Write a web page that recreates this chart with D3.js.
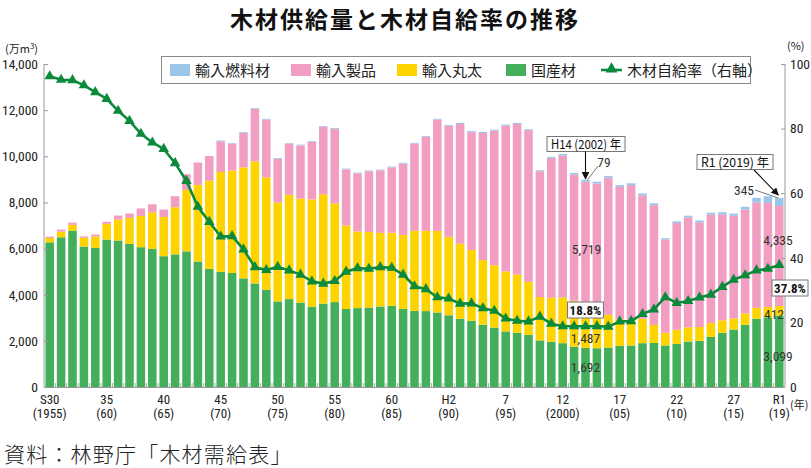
<!DOCTYPE html>
<html><head><meta charset="utf-8">
<script src="https://cdn.jsdelivr.net/npm/d3@7"></script>
<style>
body{margin:0;background:#fff;}
svg{display:block;font-family:"Noto Sans CJK JP","Noto Sans",sans-serif;}
.num{font-family:"Liberation Sans Narrow","Roboto Condensed","Liberation Sans",sans-serif;}
</style></head><body><svg id="c" width="811" height="468"></svg>
<script>
const years = [1955,1956,1957,1958,1959,1960,1961,1962,1963,1964,1965,1966,1967,1968,1969,1970,1971,1972,1973,1974,
1975,1976,1977,1978,1979,1980,1981,1982,1983,1984,1985,1986,1987,1988,1989,1990,1991,1992,1993,1994,
1995,1996,1997,1998,1999,2000,2001,2002,2003,2004,2005,2006,2007,2008,2009,2010,2011,2012,2013,2014,
2015,2016,2017,2018,2019];
const domestic = [6270,6490,6780,6090,6030,6390,6350,6200,6060,5990,
5670,5750,5880,5440,5120,4990,4940,4710,4490,4210,
3710,3810,3660,3480,3610,3680,3380,3420,3440,3490,
3520,3380,3300,3290,3230,3110,2960,2870,2700,2580,
2410,2350,2260,2020,1960,1900,1750,1692,1680,1710,
1780,1800,1900,1910,1800,1870,1970,2000,2170,2350,
2490,2700,2960,3020,3099];
const importLogs = [190,245,245,380,490,680,910,1130,1350,1580,
1700,2040,2660,3320,3830,4330,4440,4810,5290,4880,
4290,4520,4510,4650,4740,4280,3620,3320,3280,3190,
3170,3210,3470,3480,3540,3400,3250,3065,2800,2700,
2600,2520,2300,1880,1910,1980,1990,1487,1370,1420,
1150,1080,1060,780,550,610,620,600,600,540,
480,490,470,450,412];
const importProducts = [60,90,100,60,90,90,170,190,330,350,
320,480,680,970,1060,1330,1150,1490,2270,2500,
1890,2200,2300,2490,2920,3230,2430,2520,2630,2710,
2830,3090,3780,4070,4820,4810,5190,5110,5510,5830,
6320,6530,6570,5450,6060,6150,5470,5719,5770,5940,
5740,5870,5350,5190,4040,4630,4760,4540,4700,4590,
4450,4500,4570,4510,4335];
const importFuel = [0,0,0,0,0,0,0,0,0,0,
0,0,0,0,0,35,35,35,35,35,
35,35,35,35,35,35,35,35,35,35,
35,35,35,35,35,35,45,45,45,45,
45,45,45,45,45,70,70,79,80,80,
80,80,80,80,60,70,75,75,85,95,
95,120,200,290,345];
const selfRate = [96.2,95.1,95.0,93.4,91.3,89.2,85.5,82.4,78.4,75.7,
73.7,69.3,63.8,55.8,51.1,46.6,46.7,42.6,37.1,36.2,
37.2,36.1,34.8,32.7,32.0,32.8,35.7,36.8,36.6,37.1,
36.9,34.8,31.2,30.3,27.8,27.4,25.8,25.9,24.4,23.6,
21.2,20.5,20.3,21.8,19.6,18.8,18.8,18.8,18.8,18.7,
20.3,20.4,22.6,24.0,27.8,26.0,26.6,27.7,28.6,31.0,
33.2,34.6,36.1,36.6,37.8];
const tickYears = [1955,1960,1965,1970,1975,1980,1985,1990,1995,2000,2005,2010,2015,2019];
const eraLabels = ["S30","35","40","45","50","55","60","H2","7","12","17","22","27","R1"];
const adLabels = ["(1955)","(60)","(65)","(70)","(75)","(80)","(85)","(90)","(95)","(2000)","(05)","(10)","(15)","(19)"];
const leftTicks = [0,2000,4000,6000,8000,10000,12000,14000];
const rightTicks = [0,20,40,60,80,100];
const seriesKeys = ["domestic","logs","products","fuel"];
const seriesNames = {fuel:"輸入燃料材",products:"輸入製品",logs:"輸入丸太",domestic:"国産材"};
const colors = {domestic:"#43af5b",logs:"#ffd300",products:"#f19ec2",fuel:"#9cc5ea"};
const lineColor = "#0b8a3c";

const rows = years.map((y,i)=>({year:y,domestic:domestic[i],logs:importLogs[i],products:importProducts[i],fuel:importFuel[i],rate:selfRate[i]}));

const svg = d3.select("#c");
const L=44, R=785, T=64, B=387;
const x = d3.scaleBand().domain(years).range([L,R]).paddingInner(0.25).paddingOuter(0.125);
const yL = d3.scaleLinear().domain([0,14000]).range([B,T]);
const yR = d3.scaleLinear().domain([0,100]).range([B,T]);

// title
svg.append("text").attr("x",405).attr("y",28).attr("text-anchor","middle")
  .attr("font-size",23).attr("font-weight","bold").attr("letter-spacing",2).attr("fill","#111")
  .text("木材供給量と木材自給率の推移");

// stacked bars
const stack = d3.stack().keys(seriesKeys)(rows);
svg.append("g").selectAll("g").data(stack).join("g").attr("fill",d=>colors[d.key])
  .selectAll("rect").data(d=>d).join("rect")
  .attr("x",d=>x(d.data.year)).attr("width",x.bandwidth())
  .attr("y",d=>yL(d[1])).attr("height",d=>Math.max(0,yL(d[0])-yL(d[1])));

// axes
const axL = svg.append("g").attr("transform",`translate(${L},0)`)
  .call(d3.axisLeft(yL).tickValues(leftTicks).tickFormat(d3.format(",")).tickSize(-4).tickPadding(6));
const axR = svg.append("g").attr("transform",`translate(${R},0)`)
  .call(d3.axisRight(yR).tickValues(rightTicks).tickSize(-4).tickPadding(5));
[axL,axR].forEach(a=>{
  a.select(".domain").attr("stroke","#9a9a9a");
  a.selectAll(".tick line").attr("stroke","#9a9a9a");
  a.selectAll("text").attr("class","num").attr("font-size",13.5).attr("fill","#222");
});
axL.select(".domain").attr("d",`M0,${B}V${T}`);
axR.select(".domain").attr("d",`M0,${B}V${T}`);
svg.append("line").attr("x1",L).attr("x2",R).attr("y1",B+0.5).attr("y2",B+0.5).attr("stroke","#9a9a9a");
svg.append("g").selectAll("line").data(years.slice(1)).join("line")
  .attr("x1",d=>x(d)-x.step()*x.paddingInner()/2).attr("x2",d=>x(d)-x.step()*x.paddingInner()/2)
  .attr("y1",B-4).attr("y2",B).attr("stroke","#aaa");

// x labels
const xl = svg.append("g").attr("class","num").attr("font-size",13).attr("fill","#222").attr("text-anchor","middle");
tickYears.forEach((yr,i)=>{
  const cx = x(yr)+x.bandwidth()/2;
  xl.append("text").attr("x",cx).attr("y",404).text(eraLabels[i]);
  xl.append("text").attr("x",cx).attr("y",418).text(adLabels[i]);
});
svg.append("text").attr("x",790).attr("y",409).attr("font-size",11).attr("fill","#222").text("(年)");
svg.append("text").attr("x",5).attr("y",53).attr("font-size",11).attr("fill","#222").html("(万m<tspan dy='-4' font-size='8'>3</tspan><tspan dy='4'>)</tspan>");
svg.append("text").attr("x",787).attr("y",50).attr("font-size",11).attr("fill","#222").text("(%)");

// line
const line = d3.line().x(d=>x(d.year)+x.bandwidth()/2).y(d=>yR(d.rate));
svg.append("path").datum(rows).attr("d",line).attr("fill","none").attr("stroke",lineColor).attr("stroke-width",2.6);
svg.append("g").selectAll("path").data(rows).join("path")
  .attr("transform",d=>`translate(${x(d.year)+x.bandwidth()/2},${yR(d.rate)})`)
  .attr("d",d3.symbol().type(d3.symbolTriangle).size(48)).attr("fill",lineColor);

// legend
const lg = svg.append("g");
lg.append("rect").attr("x",161.5).attr("y",56.5).attr("width",589).attr("height",27).attr("fill","#fff").attr("stroke","#8a8a8a");
const legendItems = [
  {k:"fuel",x:170},{k:"products",x:291},{k:"logs",x:397},{k:"domestic",x:506}
];
legendItems.forEach(it=>{
  lg.append("rect").attr("x",it.x).attr("y",64).attr("width",20).attr("height",12).attr("fill",colors[it.k]);
  lg.append("text").attr("x",it.x+25).attr("y",75.5).attr("font-size",15).attr("fill","#222").text(seriesNames[it.k]);
});
lg.append("line").attr("x1",601).attr("x2",622).attr("y1",70).attr("y2",70).attr("stroke",lineColor).attr("stroke-width",2.6);
lg.append("path").attr("transform","translate(611.5,69)").attr("d",d3.symbol().type(d3.symbolTriangle).size(60)).attr("fill",lineColor);
lg.append("text").attr("x",627).attr("y",75.5).attr("font-size",15).attr("fill","#222").text("木材自給率（右軸）");

// annotations
const i02 = years.indexOf(2002), i19 = years.indexOf(2019);
const cx02 = x(2002)+x.bandwidth()/2, cx19 = x(2019)+x.bandwidth()/2;
const tot02 = domestic[i02]+importLogs[i02]+importProducts[i02]+importFuel[i02];
const tot19 = domestic[i19]+importLogs[i19]+importProducts[i19]+importFuel[i19];
svg.append("defs").append("marker").attr("id","ah").attr("viewBox","0 0 10 10").attr("refX",9).attr("refY",5)
  .attr("markerWidth",7).attr("markerHeight",7).attr("orient","auto")
  .append("path").attr("d","M0,0L10,5L0,10z").attr("fill","#111");
function box(cx,cy,w,h,txt,fs,bold,tl){
  svg.append("rect").attr("x",cx-w/2).attr("y",cy-h/2).attr("width",w).attr("height",h).attr("fill","#fff").attr("stroke","#777");
  const t = svg.append("text").attr("x",cx).attr("y",cy+fs*0.36).attr("text-anchor","middle").attr("font-size",fs)
    .attr("font-weight",bold?"bold":"normal").attr("fill","#111").attr("class",bold?"num":null).text(txt);
  if(tl) t.attr("textLength",tl).attr("lengthAdjust","spacingAndGlyphs");
}
function label(cx,cy,txt){
  svg.append("text").attr("class","num").attr("x",cx).attr("y",cy).attr("text-anchor","middle").attr("font-size",13.5).attr("fill","#333").text(txt);
}
// H14
box(586,144,78,15,"H14 (2002) 年",12.5,false,70);
svg.append("line").attr("x1",cx02).attr("x2",cx02).attr("y1",151.5).attr("y2",yL(tot02)-1).attr("stroke","#111").attr("stroke-width",1.1).attr("marker-end","url(#ah)");
svg.append("line").attr("x1",598).attr("y1",166).attr("x2",cx02+2).attr("y2",yL(tot02)).attr("stroke","#555").attr("stroke-width",0.8);
label(604,167,importFuel[i02]);
label(cx02+1,254,d3.format(",")(importProducts[i02]));
box(cx02,310,36,16,selfRate[i02]+"%",13,true);
label(cx02,343,d3.format(",")(importLogs[i02]));
label(cx02,372,d3.format(",")(domestic[i02]));
// R1
box(735,162,76,15,"R1 (2019) 年",12.5,false,68);
svg.append("line").attr("x1",754).attr("y1",170).attr("x2",cx19-1).attr("y2",yL(tot19)-3).attr("stroke","#111").attr("stroke-width",1.1).attr("marker-end","url(#ah)");
svg.append("line").attr("x1",755).attr("y1",190).attr("x2",cx19-1).attr("y2",yL(tot19)).attr("stroke","#555").attr("stroke-width",0.8);
label(744,195,importFuel[i19]);
label(778,245,d3.format(",")(importProducts[i19]));
box(790,288,36,16,selfRate[i19]+"%",13,true);
label(774,319,importLogs[i19]);
label(778,361,d3.format(",")(domestic[i19]));

// source
svg.append("text").attr("x",4).attr("y",462).attr("font-size",21).attr("font-weight",300).attr("letter-spacing",1.2).attr("fill","#222").text("資料：林野庁「木材需給表」");
</script></body></html>
